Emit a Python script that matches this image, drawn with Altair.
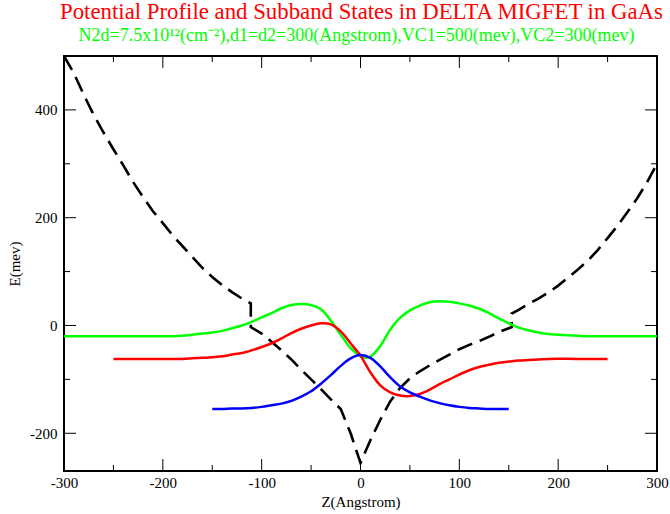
import altair as alt
import pandas as pd

# ---------------- data ----------------
pot_z = [-300, -290, -280, -270, -260, -250, -240, -230, -220, -210, -200, -190, -180, -170,
         -160, -150, -140, -130, -120, -111, -111, -100, -90, -80, -70, -60, -50, -40, -30,
         -20, -10, 0, 10, 20, 30, 40, 50, 60, 70, 80, 90, 100, 110, 120, 130, 140, 150, 153,
         153, 160, 170, 180, 190, 200, 210, 220, 230, 240, 250, 260, 270, 280, 290, 300]
pot_e = [500, 468, 428, 391, 358, 327, 297, 266, 238, 212, 190, 167, 147, 127,
         107, 90, 75, 62, 50, 41, -3, -15, -30, -46, -63, -82, -100, -118, -137,
         -155, -200, -255, -213, -175, -141, -116, -98, -85, -74, -64, -54, -44, -36, -29, -21, -12, -5, -3,
         22, 29, 40, 50, 61, 74, 89, 104, 120, 140, 162, 185, 210, 236, 266, 300]

green_z = [-300, -250, -220, -200, -190, -180, -170, -160, -150, -140, -130, -120, -110, -100, -90, -80, -70,
           -60, -50, -40, -30, -20, -10, 0, 5, 10, 20, 30, 40, 50, 60, 70, 80, 90, 100, 110, 120,
           130, 140, 150, 160, 170, 180, 190, 200, 210, 220, 230, 260, 300]
green_e = [-20, -20, -20, -20, -20, -19, -17, -15, -13, -10, -5, 0, 7, 15, 23, 32, 38,
           40, 38, 30, 9, -17, -42, -57, -60, -58, -38, -8, 14, 28, 37, 43, 45, 44, 41, 37, 31,
           23, 13, 4, -4, -9, -13, -16, -17, -18, -19, -20, -20, -20]

red_z = [-250, -220, -200, -180, -170, -160, -150, -140, -130, -120, -110, -100, -90, -80, -70, -60, -50,
         -40, -30, -20, -10, 0, 10, 20, 30, 40, 50, 60, 70, 80, 90, 100, 110, 120, 130, 140,
         150, 160, 170, 180, 190, 220, 250]
red_e = [-62, -62, -62, -62, -61, -60, -59, -57, -54, -51, -46, -40, -33, -24, -14, -6, 0,
         4, 2, -11, -33, -56, -87, -111, -124, -130, -131, -127, -119, -109, -100, -91, -83, -77, -73, -69,
         -67, -65, -64, -63, -62, -62, -62]

blue_z = [-150, -140, -130, -120, -110, -100, -90, -80, -70, -60, -50, -40, -30, -20, -10, 0,
          10, 20, 30, 40, 50, 60, 70, 80, 90, 100, 110, 120, 130, 140, 150]
blue_e = [-155, -155, -154, -154, -153, -151, -148, -145, -140, -132, -122, -108, -92, -75, -61, -55,
          -60, -76, -96, -113, -124, -132, -139, -144, -148, -151, -153, -154, -155, -155, -155]

x_major = [-300, -200, -100, 0, 100, 200, 300]
x_minor = [-250, -150, -50, 50, 150, 250]
y_major = [-200, 0, 200, 400]
y_minor = [-100, 100, 300]

title_text = "Potential Profile and Subband States in DELTA MIGFET in GaAs"
subtitle_text = "N2d=7.5x10\u00b9\u00b2(cm\u207b\u00b2),d1=d2=300(Angstrom),VC1=500(mev),VC2=300(mev)"

# ---------------- layout ----------------
W, H = 593, 415
FONT = "Liberation Serif"

xscale = alt.Scale(domain=[-300, 300], nice=False, zero=False)
yscale = alt.Scale(domain=[-270, 500], nice=False, zero=False)

xaxis = alt.Axis(values=x_major, ticks=False, domain=False, grid=False,
                 labelFont=FONT, labelFontSize=15, labelColor="black", labelPadding=4,
                 labelFlush=False, labelOverlap=False, labelExpr="datum.value + ''",
                 title="Z(Angstrom)", titleFont=FONT, titleFontSize=15, titleFontWeight="normal",
                 titleColor="black", titleX=W / 2, titleY=30, titleAlign="center",
                 titleBaseline="middle")
yaxis = alt.Axis(values=y_major, ticks=False, domain=False, grid=False,
                 labelFont=FONT, labelFontSize=15, labelColor="black", labelPadding=7,
                 labelFlush=False, labelOverlap=False, labelExpr="datum.value + ''",
                 title="E(mev)", titleFont=FONT, titleFontSize=15, titleFontWeight="normal",
                 titleColor="black", titleX=-50, titleY=H / 2, titleAngle=270,
                 titleAlign="center", titleBaseline="middle")

X = lambda f: alt.X(f, type="quantitative", scale=xscale, axis=xaxis)
Y = lambda f: alt.Y(f, type="quantitative", scale=yscale, axis=yaxis)

pot_df = pd.DataFrame({"z": pot_z, "e": pot_e, "i": list(range(len(pot_z)))})
pot = alt.Chart(pot_df).mark_line(color="black", strokeWidth=2.6, strokeDash=[16, 8]).encode(
    x=X("z"), y=Y("e"), order=alt.Order("i:Q"))


def curve(zs, es, color):
    df = pd.DataFrame({"z": zs, "e": es})
    return alt.Chart(df).mark_line(color=color, strokeWidth=2.5, interpolate="catmull-rom").encode(
        x=X("z"), y=Y("e"))


green = curve(green_z, green_e, "#00ff00")
red = curve(red_z, red_e, "#ff0000")
blue = curve(blue_z, blue_e, "#0000ff")


def xticks(vals, length, top):
    df = pd.DataFrame({"t": vals})
    y0 = 0 if top else H
    y1 = length if top else H - length
    return alt.Chart(df).mark_rule(color="black", strokeWidth=1).encode(
        x=X("t"), y=alt.value(y0), y2=alt.value(y1))


def yticks(vals, length, right):
    df = pd.DataFrame({"t": vals})
    x0 = W if right else 0
    x1 = W - length if right else length
    return alt.Chart(df).mark_rule(color="black", strokeWidth=1).encode(
        y=Y("t"), x=alt.value(x0), x2=alt.value(x1))


ticks = [xticks(x_major, 12, False), xticks(x_minor, 6, False),
         xticks(x_major, 12, True), xticks(x_minor, 6, True),
         yticks(y_major, 12, False), yticks(y_minor, 6, False),
         yticks(y_major, 12, True), yticks(y_minor, 6, True)]

one = pd.DataFrame({"a": [0]})
title = alt.Chart(one).mark_text(font=FONT, fontSize=22.8, color="#ff0000", align="center",
                                 baseline="alphabetic").encode(
    x=alt.value(W / 2 + 1), y=alt.value(-37), text=alt.value(title_text))
subtitle = alt.Chart(one).mark_text(font=FONT, fontSize=18, color="#00ff00", align="center",
                                    baseline="alphabetic").encode(
    x=alt.value(W / 2 - 4), y=alt.value(-15), text=alt.value(subtitle_text))

chart = alt.layer(*ticks, pot, green, red, blue, title, subtitle).properties(
    width=W, height=H, autosize="none",
    padding={"left": 64, "top": 56, "right": 13, "bottom": 43},
).configure_view(stroke="black", strokeWidth=2)

chart.save("out.html", embed_options={"renderer": "svg", "actions": False})
